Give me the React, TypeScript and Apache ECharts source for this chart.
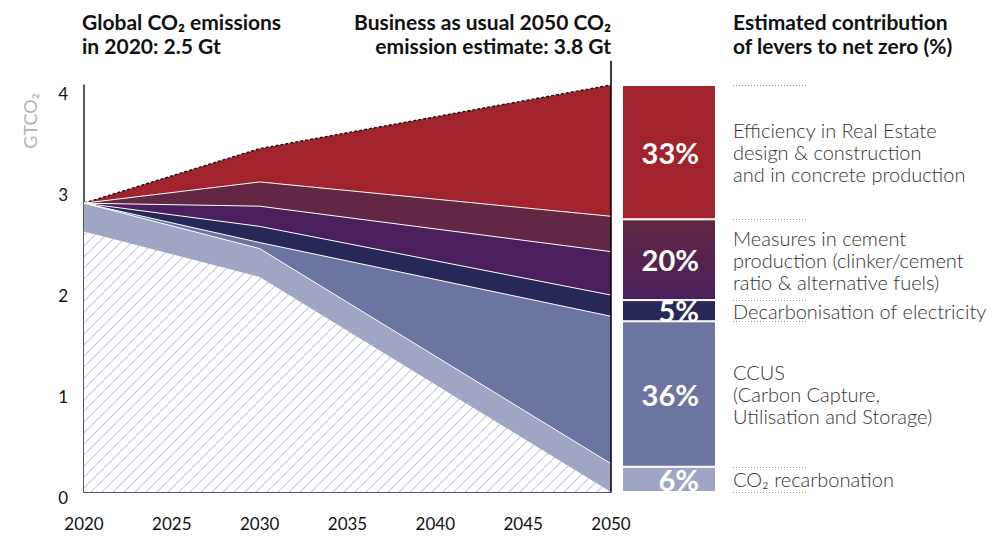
import React, { useEffect, useRef } from 'react';
import * as echarts from 'echarts';

// ---- data ----
const years = [2020, 2030, 2050];
const remaining = [2.58, 2.13, 0];
const recarbonation = [0.28, 0.28, 0.28];
const ccus = [0, 0.06, 1.46];
const electricity = [0, 0.16, 0.21];
const cementFuels = [0, 0.2, 0.43];
const cementClinker = [0, 0.24, 0.35];
const efficiency = [0, 0.33, 1.3];

// right bar (bottom to top)
const leverNames = [
  ['CO₂ recarbonation'],
  ['CCUS', '(Carbon Capture,', 'Utilisation and Storage)'],
  ['Decarbonisation of electricity'],
  ['Measures in cement', 'production (clinker/cement', 'ratio & alternative fuels)'],
  ['Efficiency in Real Estate', 'design & construction', 'and in concrete production'],
];
const leverPct = [6, 36, 5, 20, 33];
const leverValues = [0.25, 1.44, 0.21, 0.8, 1.33];

const yMax = 4.03;
const FONT = 'Lato, "Noto Sans", sans-serif';

const C = {
  red: '#a0232d',
  maroon: '#622743',
  purple: '#4a1f5c',
  navy: '#272856',
  ccus: '#6b75a0',
  light: '#a1a5c4',
  hatch: '#c4c8de',
};

export default function App() {
  const ref = useRef<HTMLDivElement>(null);
  useEffect(() => {
    if (!ref.current) return;
    const chart = echarts.init(ref.current, undefined, { renderer: 'svg' });

    const s = 11;
    const cv = document.createElement('canvas');
    cv.width = s;
    cv.height = s;
    const ctx = cv.getContext('2d')!;
    ctx.fillStyle = '#ffffff';
    ctx.fillRect(0, 0, s, s);
    ctx.strokeStyle = C.hatch;
    ctx.lineWidth = 1.1;
    ctx.beginPath();
    ctx.moveTo(-1, s + 1); ctx.lineTo(s + 1, -1);
    ctx.moveTo(-1, 1); ctx.lineTo(1, -1);
    ctx.moveTo(s - 1, s + 1); ctx.lineTo(s + 1, s - 1);
    ctx.stroke();

    // layers bottom-up; cumulative tops computed from them
    const layers = [
      { name: 'Remaining emissions', vals: remaining, fill: { image: cv, repeat: 'repeat' } as any, line: { width: 0, opacity: 0 } },
      { name: 'CO₂ recarbonation', vals: recarbonation, fill: C.light, line: null },
      { name: 'CCUS', vals: ccus, fill: C.ccus, line: null },
      { name: 'Decarbonisation of electricity', vals: electricity, fill: C.navy, line: null },
      { name: 'Alternative fuels', vals: cementFuels, fill: C.purple, line: null },
      { name: 'Clinker/cement ratio', vals: cementClinker, fill: C.maroon, line: null },
      { name: 'Efficiency', vals: efficiency, fill: C.red, line: { color: '#111', width: 1.4, type: [3, 2] } },
    ];
    const running = years.map(() => 0);
    const tops = layers.map((l) => {
      l.vals.forEach((v, i) => { running[i] += v; });
      return running.slice();
    });
    // draw top-most first so lower layers cover the area beneath
    const areaSeries = layers
      .map((l, k) => ({
        type: 'line',
        name: l.name,
        data: years.map((y, i) => [y, +tops[k][i].toFixed(4)]),
        symbol: 'none',
        showSymbol: false,
        clip: false,
        silent: true,
        xAxisIndex: 0,
        yAxisIndex: 0,
        lineStyle: l.line || { color: '#ffffff', width: 1 },
        areaStyle: { color: l.fill, opacity: 1, origin: 'start' },
      }))
      .reverse();

    const barColors = [
      C.light,
      C.ccus,
      C.navy,
      new echarts.graphic.LinearGradient(0, 0, 0, 1, [
        { offset: 0, color: C.maroon },
        { offset: 1, color: C.purple },
      ]),
      C.red,
    ];

    const bars = leverValues.map((v, i) => ({
      type: 'bar',
      stack: 'lev',
      xAxisIndex: 1,
      yAxisIndex: 1,
      barWidth: '100%',
      silent: true,
      data: [v],
      itemStyle: { color: barColors[i], borderColor: '#ffffff', borderWidth: 1 },
      label: {
        show: true,
        position: 'insideRight',
        distance: 17,
        formatter: `${leverPct[i]}%`,
        color: '#ffffff',
        fontFamily: FONT,
        fontWeight: 'bold',
        fontSize: 29,
      },
    }));

    const option: any = {
      animation: false,
      grid: [
        { left: 84, top: 85, width: 527, height: 407 },
        { left: 622, top: 85, width: 94, height: 407 },
      ],
      xAxis: [
        {
          type: 'value',
          gridIndex: 0,
          min: 2020,
          max: 2050,
          interval: 5,
          axisLine: { show: true, lineStyle: { color: '#222', width: 1.5 } },
          axisTick: { show: false },
          splitLine: { show: false },
          axisLabel: {
            margin: 23,
            color: '#111',
            fontSize: 17,
            fontFamily: FONT,
            formatter: (v: number) => String(v),
          },
        },
        { type: 'category', gridIndex: 1, data: [''], show: false },
      ],
      yAxis: [
        {
          type: 'value',
          gridIndex: 0,
          min: 0,
          max: yMax,
          interval: 1,
          axisLine: { show: true, lineStyle: { color: '#222', width: 1.5 } },
          axisTick: { show: false },
          splitLine: { show: false },
          axisLabel: {
            margin: 16,
            color: '#111',
            fontSize: 17,
            fontFamily: FONT,
            verticalAlign: 'top',
            lineHeight: 10,
            formatter: (v: number) => (Number.isInteger(v) ? String(v) : ''),
          },
        },
        { type: 'value', gridIndex: 1, min: 0, max: yMax, show: false },
      ],
      series: [...areaSeries, ...bars],
    };
    chart.setOption(option);

    // derived layout for annotations
    const py = (v: number) => chart.convertToPixel({ yAxisIndex: 1 }, v) as number;
    const p2050a = chart.convertToPixel({ gridIndex: 0 }, [2050, 0]) as number[];
    const p2050b = chart.convertToPixel({ gridIndex: 0 }, [2050, 4.27]) as number[];

    const graphics: any[] = [];
    const tStyle = (text: string, x: number, y: number, extra: any) => ({
      type: 'text',
      silent: true,
      style: { text, x, y, fontFamily: FONT, ...extra },
    });
    const bold = { fontSize: 21, fontWeight: 'bold', fill: '#111', lineHeight: 24, verticalAlign: 'middle' };
    graphics.push(tStyle('Global CO₂ emissions\nin 2020: 2.5 Gt', 82, 33, { ...bold, align: 'left' }));
    graphics.push(tStyle('Business as usual 2050 CO₂\nemission estimate: 3.8 Gt', 611, 33, { ...bold, align: 'right' }));
    graphics.push(tStyle('Estimated contribution\nof levers to net zero (%)', 733, 33, { ...bold, align: 'left' }));
    graphics.push({
      type: 'text',
      silent: true,
      x: 30,
      y: 121,
      rotation: Math.PI / 2,
      style: { text: 'GTCO₂', fontFamily: FONT, fontSize: 18, fill: '#b3b3b3', align: 'center', verticalAlign: 'middle' },
    });
    graphics.push({
      type: 'line',
      silent: true,
      z: 100,
      shape: { x1: p2050a[0], y1: p2050a[1], x2: p2050b[0], y2: p2050b[1] },
      style: { stroke: '#000', lineWidth: 1.5 },
    });

    let cum = 0;
    const bounds = [0];
    leverValues.forEach((v) => { cum += v; bounds.push(cum); });
    bounds.forEach((b) => {
      const y = Math.round(py(b)) + 0.5;
      graphics.push({
        type: 'line',
        silent: true,
        shape: { x1: 733, y1: y, x2: 808, y2: y },
        style: { stroke: '#999', lineWidth: 1, lineDash: [1, 2] },
      });
    });
    leverNames.forEach((lines, i) => {
      const yc = (py(bounds[i]) + py(bounds[i + 1])) / 2;
      graphics.push(
        tStyle(lines.join('\n'), 733, yc, {
          fontSize: 20,
          fontWeight: 300,
          fill: '#333',
          lineHeight: 22,
          align: 'left',
          verticalAlign: 'middle',
        })
      );
    });
    chart.setOption({ graphic: graphics });

    return () => chart.dispose();
  }, []);
  return <div ref={ref} style={{ width: 1004, height: 539, margin: -8 }} />;
}
